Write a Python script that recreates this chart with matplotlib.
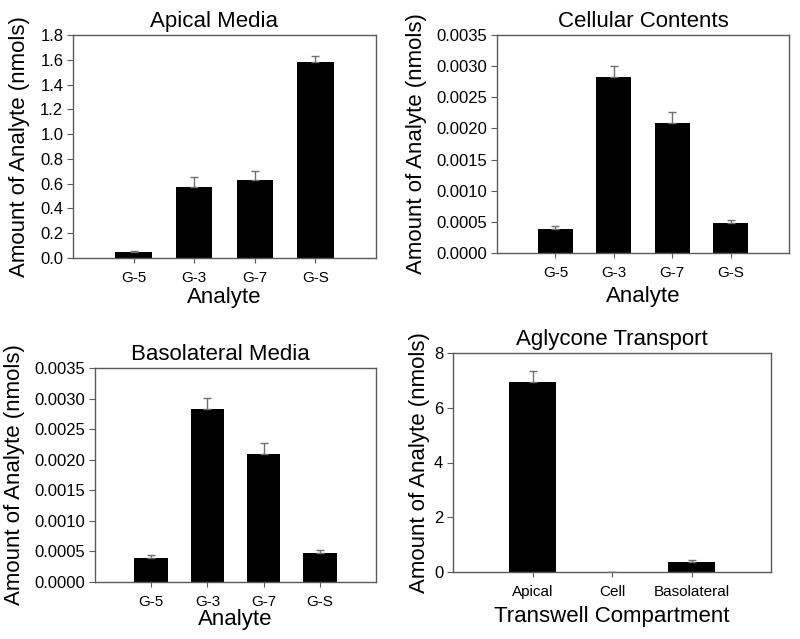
import matplotlib.pyplot as plt

plt.rcParams['font.family'] = ['Liberation Sans', 'DejaVu Sans']

# data
analytes = ['G-5', 'G-3', 'G-7', 'G-S']
apical_vals = [0.05, 0.57, 0.63, 1.58]
apical_err = [0.01, 0.08, 0.07, 0.05]
cell_vals = [0.00039, 0.00283, 0.00209, 0.00048]
cell_err = [0.00005, 0.00018, 0.00018, 0.00005]
baso_vals = [0.00039, 0.00283, 0.00209, 0.00048]
baso_err = [0.00005, 0.00018, 0.00018, 0.00005]
compartments = ['Apical', 'Cell', 'Basolateral']
agly_vals = [6.93, 0.005, 0.37]
agly_err = [0.42, 0.01, 0.07]

SPINE = '#5a5a5a'
ERR = '#707070'
W, H = 800, 639


def px_rect(x0, y0, x1, y1):
    return [x0 / W, (H - y1) / H, (x1 - x0) / W, (y1 - y0) / H]


def bar_panel(ax, labels, vals, errs, title, xlabel, ylim, yticks, ytick_fmt,
              title_x=0.5, xlabelpad=2, ylabelpad=7):
    pos = list(range(1, len(labels) + 1))
    ax.bar(pos, vals, width=0.6, color='black', zorder=2)
    ax.errorbar(pos, vals, yerr=[[0] * len(vals), errs], fmt='none',
                ecolor=ERR, elinewidth=1, capsize=3, capthick=1, zorder=3)
    ax.set_xlim(0, len(labels) + 1)
    ax.set_ylim(*ylim)
    ax.set_xticks(pos)
    ax.set_xticklabels(labels, fontsize=11)
    ax.set_yticks(yticks)
    ax.set_yticklabels([ytick_fmt.format(t) for t in yticks], fontsize=12)
    ax.tick_params(axis='x', direction='out', length=3.5, width=0.8,
                   color=SPINE, pad=6)
    ax.tick_params(axis='y', direction='out', length=4, width=0.8,
                   color=SPINE, pad=3)
    for s in ax.spines.values():
        s.set_color(SPINE)
        s.set_linewidth(1)
    ax.set_title(title, fontsize=16, x=title_x, pad=6)
    ax.set_xlabel(xlabel, fontsize=16, labelpad=xlabelpad)
    ax.set_ylabel('Amount of Analyte (nmols)', fontsize=16, labelpad=ylabelpad)


fig = plt.figure(figsize=(8, 6.39), dpi=100)

ax1 = fig.add_axes(px_rect(73, 35, 376, 258))
bar_panel(ax1, analytes, apical_vals, apical_err, 'Apical Media', 'Analyte',
          (0, 1.8), [0, 0.2, 0.4, 0.6, 0.8, 1.0, 1.2, 1.4, 1.6, 1.8], '{:.1f}',
          title_x=0.464, xlabelpad=1)

ax2 = fig.add_axes(px_rect(497, 35, 789, 253))
bar_panel(ax2, analytes, cell_vals, cell_err, 'Cellular Contents', 'Analyte',
          (0, 0.0035), [0, 0.0005, 0.001, 0.0015, 0.002, 0.0025, 0.003, 0.0035],
          '{:.4f}', xlabelpad=4)

ax3 = fig.add_axes(px_rect(95, 368, 376, 582))
bar_panel(ax3, analytes, baso_vals, baso_err, 'Basolateral Media', 'Analyte',
          (0, 0.0035), [0, 0.0005, 0.001, 0.0015, 0.002, 0.0025, 0.003, 0.0035],
          '{:.4f}', title_x=0.447, xlabelpad=0)

ax4 = fig.add_axes(px_rect(453, 353, 771, 572))
bar_panel(ax4, compartments, agly_vals, agly_err, 'Aglycone Transport',
          'Transwell Compartment', (0, 8), [0, 2, 4, 6, 8], '{:d}',
          xlabelpad=5, ylabelpad=3)

fig.savefig('out.png', dpi=100)
